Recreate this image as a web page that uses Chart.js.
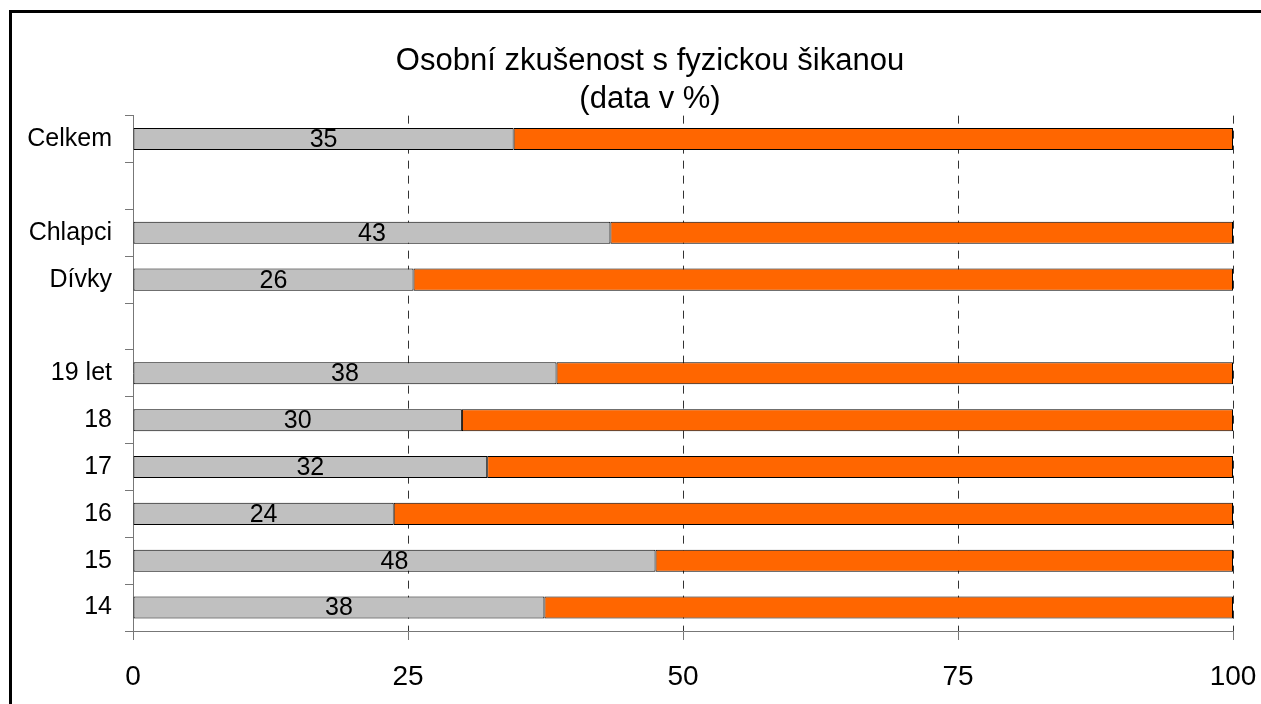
<!DOCTYPE html>
<html><head><meta charset="utf-8">
<script src="https://cdn.jsdelivr.net/npm/chart.js@4/dist/chart.umd.min.js"></script>
<style>
html,body{margin:0;padding:0;background:#fff;overflow:hidden;}
#wrap{position:relative;width:1261px;height:704px;overflow:hidden;}
#frame{position:absolute;left:9px;top:10px;width:2000px;height:2000px;border:3px solid #000;box-sizing:border-box;}
canvas{position:absolute;left:0;top:0;}
</style></head><body>
<div id="wrap"><div id="frame"></div><canvas id="c" width="1261" height="704"></canvas></div>
<script>
const categories = ['Celkem', '', 'Chlapci', 'Dívky', '', '19 let', '18', '17', '16', '15', '14'];
const yesValues = [34.6, null, 43.4, 25.5, null, 38.5, 29.9, 32.2, 23.7, 47.5, 37.4];
const noValues = [65.4, null, 56.6, 74.5, null, 61.5, 70.1, 67.8, 76.3, 52.5, 62.6];
const valueLabels = ['35', '', '43', '26', '', '38', '30', '32', '24', '48', '38'];
const titleLines = ['Osobní zkušenost s fyzickou šikanou', '(data v %)'];
const xMin = 0, xMax = 100, xStep = 25;

Chart.defaults.font.family = '"Liberation Sans", Arial, sans-serif';
Chart.defaults.color = '#000';

const valueLabelPlugin = {
  id: 'valueLabels',
  afterDatasetsDraw(chart) {
    const meta = chart.getDatasetMeta(0);
    const ctx = chart.ctx;
    ctx.save();
    ctx.font = '25px "Liberation Sans", Arial, sans-serif';
    ctx.fillStyle = '#000';
    ctx.textAlign = 'center';
    ctx.textBaseline = 'middle';
    meta.data.forEach((bar, i) => {
      const t = valueLabels[i];
      if (!t) return;
      const p = bar.getProps(['x', 'base', 'y'], true);
      ctx.fillText(t, (p.x + p.base) / 2, p.y + 1);
    });
    ctx.restore();
  }
};

new Chart(document.getElementById('c'), {
  type: 'bar',
  data: {
    labels: categories,
    datasets: [
      { data: yesValues, backgroundColor: '#C0C0C0', borderColor: '#000', borderWidth: 1, borderSkipped: false,
        barPercentage: 0.47, categoryPercentage: 1 },
      { data: noValues, backgroundColor: '#FF6600', borderColor: '#000', borderWidth: 1, borderSkipped: false,
        barPercentage: 0.47, categoryPercentage: 1 }
    ]
  },
  options: {
    indexAxis: 'y',
    responsive: false,
    animation: false,
    layout: { padding: { left: 10, right: -29, top: 0, bottom: 0 } },
    plugins: {
      legend: { display: false },
      tooltip: { enabled: false },
      title: {
        display: true, text: titleLines, color: '#000',
        font: { size: 31, weight: 'normal', lineHeight: 1.22 },
        padding: { top: 43, bottom: -3 }
      }
    },
    scales: {
      x: {
        type: 'linear', stacked: true, min: xMin, max: xMax, position: 'bottom',
        afterFit(s) { s.height = 73; s.paddingRight = 28; },
        ticks: { stepSize: xStep, font: { size: 28 }, padding: 20, color: '#000' },
        grid: {
          color: c => (c.tick && c.tick.value === 0) ? 'rgba(0,0,0,0)' : '#333',
          lineWidth: 1, tickLength: 9, tickColor: '#777', drawTicks: true
        },
        border: { display: true, color: '#777', width: 1, dash: [8, 7] }
      },
      y: {
        type: 'category', stacked: true, offset: true,
        afterFit(s) { s.width = 123; },
        ticks: { font: { size: 25 }, padding: 13, color: '#000', autoSkip: false },
        grid: { drawOnChartArea: false, drawTicks: true, tickLength: 8, color: '#777', offset: true },
        border: { display: true, color: '#777', width: 1 }
      }
    }
  },
  plugins: [valueLabelPlugin]
});
</script>
</body></html>
